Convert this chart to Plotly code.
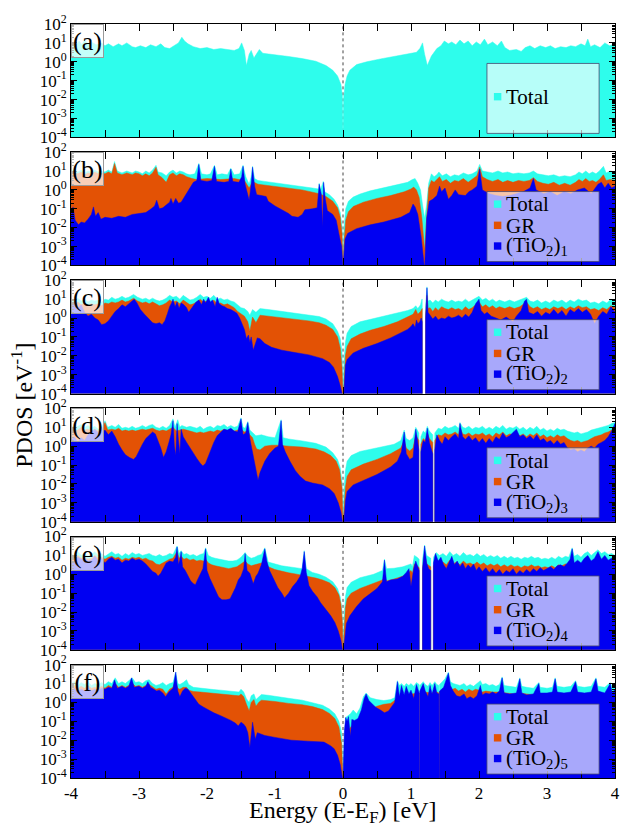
import plotly.graph_objects as go
from plotly.subplots import make_subplots

# Projected density of states, stored as (energy E-E_F [eV], log10 PDOS [1/eV]).
# A value of -8 marks an energy window with no states (band gap).

total_a = [(-4.0, 0.7), (-3.97, 1.0), (-3.93, 0.85), (-3.88, 1.1), (-3.84, 0.9), (-3.8, 1.15), (-3.75, 0.95),
           (-3.7, 1.05), (-3.63, 0.9), (-3.55, 1.0), (-3.5, 0.85), (-3.45, 0.95), (-3.38, 0.8), (-3.3, 0.95),
           (-3.25, 0.85), (-3.18, 1.0), (-3.1, 0.8), (-3.05, 0.75), (-2.98, 0.85), (-2.9, 0.75), (-2.83, 0.9),
           (-2.75, 0.8), (-2.68, 0.95), (-2.62, 0.75), (-2.55, 0.7), (-2.48, 0.85), (-2.42, 1.0), (-2.37, 1.3),
           (-2.33, 1.1), (-2.28, 0.95), (-2.2, 0.8), (-2.1, 0.7), (-2.0, 0.75), (-1.9, 0.65), (-1.8, 0.7),
           (-1.7, 0.65), (-1.6, 0.6), (-1.53, 0.7), (-1.49, 1.0), (-1.45, 0.6), (-1.42, -0.2), (-1.38, 0.4),
           (-1.35, 0.6), (-1.31, 0.2), (-1.27, 0.45), (-1.23, 0.65), (-1.18, 0.45), (-1.0, 0.38), (-0.8, 0.28),
           (-0.6, 0.17), (-0.4, 0.03), (-0.25, -0.2), (-0.15, -0.45), (-0.08, -0.75), (-0.03, -1.2),
           (-0.01, -1.8), (0.0, -4.2), (0.01, -1.9), (0.03, -1.2), (0.06, -0.75), (0.1, -0.45), (0.2, -0.15),
           (0.35, 0.0), (0.55, 0.15), (0.8, 0.3), (1.0, 0.42), (1.08, 0.5), (1.13, 0.7), (1.17, 1.0), (1.2, 0.4),
           (1.24, -0.2), (1.3, 0.3), (1.38, 0.7), (1.44, 0.85), (1.49, 1.1), (1.55, 0.95), (1.6, 1.05),
           (1.66, 0.9), (1.72, 1.15), (1.78, 0.95), (1.84, 1.1), (1.9, 0.85), (1.96, 1.05), (2.02, 0.9),
           (2.08, 1.2), (2.13, 0.9), (2.2, 1.05), (2.27, 0.85), (2.33, 1.1), (2.38, 0.75), (2.45, 0.6),
           (2.55, 0.65), (2.62, 0.55), (2.68, 0.75), (2.75, 0.85), (2.82, 0.7), (2.9, 0.85), (2.98, 0.75),
           (3.05, 0.85), (3.12, 0.7), (3.2, 0.8), (3.28, 0.75), (3.35, 0.85), (3.42, 0.8), (3.5, 0.95),
           (3.56, 0.85), (3.6, 1.2), (3.64, 0.8), (3.7, 0.9), (3.78, 0.75), (3.85, 1.0), (3.92, 0.85), (4.0, 0.95)]

total_b = [(-4.0, 1.0), (-3.95, 1.1), (-3.9, 0.95), (-3.85, 1.05), (-3.8, 0.9), (-3.75, 1.0), (-3.7, 0.95),
           (-3.65, 1.05), (-3.6, 0.95), (-3.55, 1.0), (-3.5, 0.95), (-3.45, 1.05), (-3.4, 0.95), (-3.36, 1.5),
           (-3.32, 1.0), (-3.25, 0.9), (-3.18, 1.0), (-3.1, 0.9), (-3.05, 1.0), (-3.0, 0.95), (-2.95, 0.85),
           (-2.9, 1.0), (-2.85, 0.9), (-2.8, 1.05), (-2.75, 1.3), (-2.72, 0.95), (-2.66, 0.9), (-2.6, 0.75),
           (-2.55, 0.95), (-2.5, 1.05), (-2.45, 0.9), (-2.4, 1.0), (-2.35, 0.95), (-2.3, 0.85), (-2.25, 0.8),
           (-2.18, 0.85), (-2.12, 1.4), (-2.08, 0.85), (-2.0, 0.8), (-1.95, 0.85), (-1.89, 1.3), (-1.85, 0.8),
           (-1.78, 0.85), (-1.7, 0.8), (-1.65, 1.15), (-1.6, 0.8), (-1.52, 0.85), (-1.47, 1.3), (-1.43, 0.7),
           (-1.38, 0.3), (-1.35, 0.7), (-1.33, 1.25), (-1.3, 0.6), (-1.25, 0.5), (-1.15, 0.45), (-1.0, 0.38),
           (-0.8, 0.3), (-0.6, 0.2), (-0.45, 0.1), (-0.36, 0.05), (-0.35, 0.35), (-0.33, 0.0), (-0.29, 0.45),
           (-0.27, -0.1), (-0.2, -0.25), (-0.13, -0.5), (-0.08, -0.8), (-0.04, -1.2), (-0.015, -1.9),
           (0.0, -4.2), (0.015, -2.0), (0.04, -1.0), (0.08, -0.6), (0.15, -0.38), (0.25, -0.22), (0.4, -0.05),
           (0.6, 0.1), (0.8, 0.25), (0.95, 0.4), (1.02, 0.55), (1.06, 0.6), (1.1, 0.35), (1.14, 0.0),
           (1.17, -0.8), (1.2, -1.5), (1.23, -0.8), (1.26, 0.35), (1.3, 0.85), (1.34, 0.7), (1.38, 0.8),
           (1.41, 0.95), (1.46, 0.75), (1.52, 0.85), (1.58, 0.7), (1.64, 0.8), (1.7, 0.75), (1.77, 0.9),
           (1.84, 0.8), (1.9, 0.85), (1.97, 1.0), (2.01, 1.35), (2.05, 1.0), (2.12, 0.95), (2.2, 0.9),
           (2.28, 1.0), (2.35, 0.9), (2.42, 0.95), (2.5, 0.85), (2.58, 0.9), (2.66, 0.85), (2.74, 0.9),
           (2.8, 1.0), (2.86, 0.85), (2.94, 0.8), (3.02, 0.75), (3.1, 0.8), (3.18, 0.7), (3.26, 0.75),
           (3.34, 0.7), (3.42, 0.8), (3.47, 0.95), (3.52, 0.85), (3.57, 1.0), (3.62, 0.85), (3.67, 0.95),
           (3.72, 0.85), (3.77, 1.0), (3.83, 1.25), (3.87, 0.9), (3.93, 1.0), (4.0, 0.95)]

gr_b = [(-4.0, 0.9), (-3.95, 0.95), (-3.9, 0.85), (-3.85, 0.95), (-3.8, 0.8), (-3.75, 0.9), (-3.7, 0.85),
        (-3.65, 0.95), (-3.6, 0.85), (-3.55, 0.9), (-3.5, 0.85), (-3.45, 0.95), (-3.4, 0.85), (-3.36, 1.4),
        (-3.32, 0.9), (-3.25, 0.8), (-3.18, 0.9), (-3.1, 0.8), (-3.05, 0.9), (-3.0, 0.85), (-2.95, 0.75),
        (-2.9, 0.85), (-2.85, 0.75), (-2.8, 0.9), (-2.75, 1.2), (-2.72, 0.8), (-2.66, 0.65), (-2.6, 0.4),
        (-2.55, 0.8), (-2.5, 0.9), (-2.45, 0.75), (-2.4, 0.85), (-2.35, 0.8), (-2.3, 0.7), (-2.22, 0.6),
        (-2.15, 0.55), (-2.0, 0.6), (-1.8, 0.55), (-1.6, 0.6), (-1.45, 0.5), (-1.38, 0.1), (-1.33, 0.45),
        (-1.25, 0.3), (-1.15, 0.25), (-1.0, 0.18), (-0.8, 0.1), (-0.6, 0.0), (-0.45, -0.12), (-0.35, -0.2),
        (-0.25, -0.35), (-0.15, -0.6), (-0.08, -0.95), (-0.04, -1.45), (-0.015, -2.3), (0.0, -4.2),
        (0.015, -2.8), (0.04, -1.6), (0.08, -1.15), (0.15, -0.88), (0.3, -0.65), (0.5, -0.45), (0.7, -0.3),
        (0.9, -0.1), (1.0, 0.05), (1.04, 0.15), (1.08, 0.0), (1.12, -0.4), (1.16, -1.5), (1.2, -3.2),
        (1.23, -1.5), (1.26, 0.1), (1.3, 0.5), (1.34, 0.4), (1.38, 0.55), (1.42, 0.7), (1.46, 0.45),
        (1.52, 0.55), (1.58, 0.35), (1.64, 0.5), (1.7, 0.45), (1.77, 0.6), (1.84, 0.4), (1.9, 0.55),
        (1.97, 0.75), (2.01, 1.2), (2.05, 0.7), (2.12, 0.55), (2.2, 0.45), (2.28, 0.55), (2.35, 0.4),
        (2.42, 0.5), (2.5, 0.4), (2.58, 0.5), (2.66, 0.45), (2.74, 0.5), (2.8, 0.65), (2.86, 0.45),
        (2.94, 0.35), (3.02, 0.3), (3.1, 0.4), (3.18, 0.25), (3.26, 0.35), (3.34, 0.25), (3.42, 0.4),
        (3.47, 0.55), (3.52, 0.45), (3.57, 0.6), (3.62, 0.45), (3.67, 0.5), (3.72, 0.4), (3.77, 0.55),
        (3.83, 0.8), (3.87, 0.5), (3.93, 0.55), (4.0, 0.5)]

tio2_b = [(-4.0, -1.3), (-3.97, -0.9), (-3.94, -1.6), (-3.89, -1.85), (-3.85, -1.7), (-3.8, -1.75),
          (-3.75, -1.55), (-3.7, -1.3), (-3.67, -0.9), (-3.64, -1.4), (-3.6, -1.2), (-3.56, -1.55),
          (-3.5, -1.45), (-3.4, -1.5), (-3.3, -1.4), (-3.2, -1.45), (-3.1, -1.3), (-3.0, -1.25), (-2.9, -1.2),
          (-2.82, -1.0), (-2.77, -0.85), (-2.74, -0.55), (-2.7, -1.0), (-2.65, -0.95), (-2.6, -0.8),
          (-2.55, -0.65), (-2.53, -0.45), (-2.5, -0.75), (-2.46, -0.45), (-2.42, -0.7), (-2.38, -0.65),
          (-2.32, -0.3), (-2.27, 0.0), (-2.2, 0.4), (-2.15, 0.5), (-2.12, 1.35), (-2.09, 0.5), (-2.0, 0.45),
          (-1.93, 0.5), (-1.89, 1.25), (-1.86, 0.45), (-1.75, 0.4), (-1.68, 0.45), (-1.65, 1.1),
          (-1.62, 0.45), (-1.53, 0.4), (-1.49, 0.7), (-1.47, 1.25), (-1.44, 0.3), (-1.4, -0.3),
          (-1.38, -0.55), (-1.35, 0.3), (-1.33, 1.2), (-1.3, 0.2), (-1.27, -0.25), (-1.2, -0.3),
          (-1.13, -0.35), (-1.1, -0.6), (-1.0, -0.85), (-0.9, -1.05), (-0.8, -1.25), (-0.75, -1.4),
          (-0.66, -1.45), (-0.6, -1.3), (-0.56, -1.05), (-0.45, -1.0), (-0.38, -0.95), (-0.35, 0.3),
          (-0.32, -0.2), (-0.3, -2.0), (-0.285, 0.4), (-0.26, -0.5), (-0.23, -1.1), (-0.15, -1.3),
          (-0.1, -1.6), (-0.05, -2.5), (-0.02, -3.0), (0.0, -4.2), (0.01, -3.5), (0.03, -2.6), (0.07, -2.3),
          (0.2, -2.05), (0.4, -1.85), (0.6, -1.7), (0.85, -1.45), (0.98, -1.2), (1.03, -0.75), (1.06, -0.9),
          (1.1, -1.3), (1.15, -2.5), (1.2, -4.2), (1.23, -1.5), (1.27, -0.6), (1.32, -0.5), (1.38, -0.3),
          (1.42, 0.2), (1.45, -0.1), (1.5, 0.1), (1.55, -0.5), (1.6, -0.3), (1.65, 0.0), (1.7, -0.25),
          (1.8, -0.3), (1.85, -0.1), (1.9, 0.0), (1.97, 0.2), (2.01, 1.1), (2.05, 0.0), (2.15, -0.2),
          (2.25, -0.3), (2.35, -0.35), (2.45, -0.3), (2.55, -0.2), (2.65, -0.1), (2.75, 0.1), (2.8, 0.6),
          (2.84, 0.0), (2.95, -0.2), (3.05, -0.1), (3.15, -0.3), (3.25, -0.1), (3.35, -0.2), (3.45, 0.0),
          (3.55, 0.1), (3.65, -0.2), (3.75, 0.3), (3.8, 0.4), (3.85, 0.1), (3.9, 0.35), (3.95, 0.1), (4.0, 0.2)]

total_c = [(-4.0, 1.0), (-3.95, 0.9), (-3.9, 1.05), (-3.85, 0.9), (-3.8, 1.0), (-3.75, 0.85), (-3.7, 0.95),
           (-3.65, 0.9), (-3.6, 0.95), (-3.55, 0.85), (-3.5, 1.0), (-3.45, 0.95), (-3.4, 1.1), (-3.35, 1.0),
           (-3.3, 1.05), (-3.25, 1.15), (-3.2, 1.05), (-3.15, 1.1), (-3.08, 1.25), (-3.02, 1.1), (-2.95, 1.0),
           (-2.9, 1.05), (-2.85, 0.95), (-2.8, 1.05), (-2.75, 0.95), (-2.7, 0.9), (-2.65, 0.95), (-2.6, 1.05),
           (-2.55, 1.2), (-2.5, 1.1), (-2.45, 1.15), (-2.4, 1.0), (-2.35, 1.2), (-2.3, 1.05), (-2.25, 0.95),
           (-2.2, 1.0), (-2.15, 1.1), (-2.1, 1.25), (-2.05, 1.1), (-2.0, 1.15), (-1.95, 1.05), (-1.9, 1.2),
           (-1.85, 1.0), (-1.8, 1.05), (-1.75, 0.95), (-1.7, 1.0), (-1.65, 0.9), (-1.6, 0.85), (-1.55, 0.7),
           (-1.5, 0.55), (-1.45, 0.5), (-1.4, 0.35), (-1.37, 0.15), (-1.33, 0.45), (-1.28, 0.3), (-1.22, 0.5),
           (-1.1, 0.45), (-0.9, 0.35), (-0.7, 0.27), (-0.5, 0.18), (-0.35, 0.08), (-0.25, -0.05),
           (-0.15, -0.3), (-0.08, -0.7), (-0.04, -1.1), (-0.015, -1.8), (0.0, -4.2), (0.015, -2.3),
           (0.035, -1.3), (0.06, -0.8), (0.12, -0.45), (0.25, -0.2), (0.5, 0.0), (0.75, 0.2), (0.95, 0.4),
           (1.03, 0.5), (1.07, 0.65), (1.1, 0.5), (1.14, 0.7), (1.16, 1.0), (1.165, 1.0), (1.166, -8),
           (1.214, -8), (1.215, 0.6), (1.235, 1.65), (1.25, 0.9), (1.28, 0.95), (1.32, 0.8), (1.36, 0.95),
           (1.4, 0.85), (1.45, 1.0), (1.5, 0.9), (1.55, 0.85), (1.6, 0.95), (1.65, 0.85), (1.7, 0.9),
           (1.75, 0.85), (1.8, 1.0), (1.85, 0.85), (1.9, 0.95), (1.95, 1.05), (2.0, 1.15), (2.05, 0.95),
           (2.1, 1.05), (2.15, 0.9), (2.2, 1.0), (2.25, 0.85), (2.3, 0.95), (2.38, 0.85), (2.45, 0.95),
           (2.52, 0.85), (2.6, 0.95), (2.66, 1.05), (2.7, 1.1), (2.75, 0.9), (2.8, 0.85), (2.86, 0.95),
           (2.92, 0.8), (2.98, 0.9), (3.04, 0.8), (3.1, 0.95), (3.16, 0.85), (3.22, 0.95), (3.28, 0.8),
           (3.34, 0.95), (3.4, 0.85), (3.46, 1.0), (3.52, 0.9), (3.58, 0.95), (3.64, 0.8), (3.7, 0.85),
           (3.76, 0.75), (3.82, 0.9), (3.88, 0.8), (3.94, 1.0), (4.0, 0.9)]

gr_c = [(-4.0, 0.8), (-3.95, 0.7), (-3.9, 0.85), (-3.85, 0.7), (-3.8, 0.8), (-3.75, 0.65), (-3.7, 0.75),
        (-3.65, 0.7), (-3.6, 0.75), (-3.55, 0.65), (-3.5, 0.8), (-3.45, 0.75), (-3.4, 0.85), (-3.35, 0.8),
        (-3.3, 0.85), (-3.25, 0.95), (-3.2, 0.85), (-3.15, 0.9), (-3.08, 1.05), (-3.02, 0.9), (-2.95, 0.8),
        (-2.9, 0.85), (-2.85, 0.75), (-2.8, 0.85), (-2.75, 0.75), (-2.7, 0.65), (-2.65, 0.7), (-2.6, 0.8),
        (-2.55, 0.95), (-2.5, 0.85), (-2.45, 0.9), (-2.4, 0.75), (-2.35, 0.95), (-2.3, 0.8), (-2.25, 0.7),
        (-2.2, 0.75), (-2.15, 0.85), (-2.1, 1.0), (-2.05, 0.85), (-2.0, 0.9), (-1.95, 0.8), (-1.9, 0.95),
        (-1.85, 0.75), (-1.8, 0.8), (-1.75, 0.7), (-1.7, 0.75), (-1.65, 0.65), (-1.6, 0.55), (-1.55, 0.35),
        (-1.5, 0.2), (-1.45, 0.1), (-1.4, -0.2), (-1.37, -0.7), (-1.33, 0.05), (-1.28, -0.25), (-1.22, 0.15),
        (-1.1, 0.1), (-0.9, 0.02), (-0.7, -0.05), (-0.5, -0.15), (-0.35, -0.25), (-0.25, -0.38),
        (-0.15, -0.6), (-0.08, -1.0), (-0.04, -1.6), (-0.015, -2.6), (0.0, -4.2), (0.015, -3.5),
        (0.035, -2.0), (0.06, -1.5), (0.12, -1.1), (0.25, -0.85), (0.4, -0.65), (0.6, -0.45), (0.8, -0.2),
        (0.95, 0.05), (1.03, 0.2), (1.07, 0.45), (1.1, 0.2), (1.14, 0.35), (1.16, 0.5), (1.165, 0.5),
        (1.166, -8), (1.214, -8), (1.215, 0.2), (1.235, 1.2), (1.25, 0.5), (1.28, 0.55), (1.32, 0.35),
        (1.36, 0.55), (1.4, 0.4), (1.45, 0.6), (1.5, 0.5), (1.55, 0.45), (1.6, 0.55), (1.65, 0.45),
        (1.7, 0.5), (1.75, 0.4), (1.8, 0.6), (1.85, 0.45), (1.9, 0.55), (1.95, 0.7), (2.0, 0.85),
        (2.05, 0.6), (2.1, 0.7), (2.15, 0.55), (2.2, 0.65), (2.25, 0.5), (2.3, 0.6), (2.38, 0.5),
        (2.45, 0.6), (2.52, 0.5), (2.6, 0.6), (2.66, 0.75), (2.7, 0.85), (2.75, 0.6), (2.8, 0.5),
        (2.86, 0.6), (2.92, 0.45), (2.98, 0.55), (3.04, 0.45), (3.1, 0.6), (3.16, 0.5), (3.22, 0.6),
        (3.28, 0.45), (3.34, 0.6), (3.4, 0.5), (3.46, 0.65), (3.52, 0.55), (3.58, 0.6), (3.64, 0.45),
        (3.7, 0.5), (3.76, 0.4), (3.82, 0.55), (3.88, 0.45), (3.94, 0.65), (4.0, 0.55)]

tio2_c = [(-4.0, 0.6), (-3.95, 0.9), (-3.9, 0.5), (-3.85, 0.7), (-3.8, 0.3), (-3.75, 0.1), (-3.7, 0.2),
          (-3.65, 0.0), (-3.6, -0.1), (-3.55, -0.35), (-3.5, -0.3), (-3.45, -0.15), (-3.4, 0.1), (-3.35, 0.35),
          (-3.3, 0.5), (-3.25, 0.7), (-3.2, 0.6), (-3.15, 0.75), (-3.1, 0.9), (-3.07, 1.0), (-3.03, 0.8),
          (-2.98, 0.45), (-2.92, 0.2), (-2.86, 0.0), (-2.8, -0.25), (-2.75, -0.3), (-2.7, -0.25),
          (-2.66, -0.35), (-2.62, -0.15), (-2.58, 0.25), (-2.55, 0.6), (-2.52, 0.8), (-2.5, 1.0),
          (-2.47, 0.6), (-2.44, 0.85), (-2.41, 0.5), (-2.38, 0.8), (-2.34, 0.7), (-2.3, 0.55), (-2.27, 0.3),
          (-2.24, 0.45), (-2.2, 0.65), (-2.16, 0.85), (-2.12, 0.95), (-2.08, 0.7), (-2.05, 1.0), (-2.02, 0.8),
          (-1.98, 1.1), (-1.95, 0.85), (-1.92, 0.95), (-1.88, 0.6), (-1.85, 1.1), (-1.82, 0.75),
          (-1.78, 0.65), (-1.74, 0.6), (-1.7, 0.5), (-1.65, 0.45), (-1.6, 0.35), (-1.56, 0.25), (-1.52, 0.0),
          (-1.48, -0.3), (-1.45, -0.6), (-1.42, -1.1), (-1.39, -0.9), (-1.37, -1.3), (-1.35, -1.0),
          (-1.32, -1.7), (-1.29, -1.3), (-1.26, -1.05), (-1.22, -1.1), (-1.15, -1.35), (-1.05, -1.55),
          (-0.9, -1.7), (-0.75, -1.8), (-0.5, -1.95), (-0.3, -2.15), (-0.2, -2.35), (-0.14, -2.6),
          (-0.08, -3.1), (-0.04, -3.6), (0.0, -4.2), (0.015, -4.0), (0.035, -2.5), (0.06, -2.2), (0.15, -1.85),
          (0.3, -1.6), (0.5, -1.35), (0.7, -1.05), (0.85, -0.8), (0.95, -0.6), (1.0, -0.45), (1.03, -0.3),
          (1.06, -0.5), (1.08, -0.1), (1.1, -0.3), (1.13, -0.2), (1.15, 0.0), (1.165, -0.2), (1.166, -8),
          (1.214, -8), (1.215, 0.0), (1.235, 1.6), (1.25, 0.3), (1.28, 0.15), (1.32, -0.05), (1.36, 0.1),
          (1.4, -0.1), (1.45, 0.0), (1.5, -0.05), (1.55, 0.1), (1.6, 0.0), (1.65, 0.05), (1.7, 0.15),
          (1.75, 0.0), (1.8, 0.2), (1.85, 0.05), (1.9, 0.3), (1.95, 0.75), (2.0, 1.0), (2.03, 0.4),
          (2.08, 0.2), (2.12, 0.3), (2.18, 0.1), (2.25, 0.0), (2.32, -0.1), (2.4, 0.05), (2.45, -0.1),
          (2.5, -0.2), (2.55, 0.1), (2.62, 0.4), (2.67, 0.9), (2.7, 1.0), (2.73, 0.3), (2.8, 0.2),
          (2.86, 0.35), (2.92, 0.1), (2.98, 0.3), (3.04, 0.2), (3.1, 0.45), (3.16, 0.2), (3.22, 0.4),
          (3.28, 0.1), (3.34, 0.45), (3.4, 0.3), (3.46, 0.5), (3.52, 0.3), (3.58, 0.45), (3.64, 0.2),
          (3.7, -0.3), (3.76, 0.1), (3.82, 0.35), (3.88, 0.2), (3.94, 0.6), (4.0, 0.3)]

total_d = [(-4.0, 1.1), (-3.95, 0.95), (-3.9, 1.05), (-3.85, 1.15), (-3.8, 1.0), (-3.75, 1.1), (-3.7, 0.95),
           (-3.65, 1.05), (-3.6, 0.9), (-3.55, 1.0), (-3.5, 1.35), (-3.46, 1.0), (-3.4, 1.1), (-3.35, 1.0),
           (-3.3, 1.15), (-3.25, 0.95), (-3.2, 1.0), (-3.15, 0.95), (-3.1, 1.05), (-3.05, 0.95), (-3.0, 1.0),
           (-2.95, 1.1), (-2.9, 1.0), (-2.85, 1.1), (-2.8, 1.15), (-2.75, 1.0), (-2.7, 0.95), (-2.65, 1.05),
           (-2.6, 0.95), (-2.55, 1.1), (-2.5, 1.45), (-2.47, 1.0), (-2.43, 1.4), (-2.4, 1.0), (-2.37, 1.1),
           (-2.3, 1.0), (-2.25, 1.05), (-2.2, 1.0), (-2.15, 0.95), (-2.1, 1.05), (-2.05, 0.9), (-2.0, 1.0),
           (-1.95, 1.05), (-1.9, 0.95), (-1.85, 1.1), (-1.8, 1.05), (-1.75, 1.15), (-1.7, 1.0), (-1.65, 1.1),
           (-1.6, 1.0), (-1.55, 1.05), (-1.5, 1.5), (-1.47, 1.0), (-1.44, 0.95), (-1.4, 1.3), (-1.37, 0.85),
           (-1.33, 0.7), (-1.28, 0.55), (-1.2, 0.6), (-1.1, 0.5), (-1.0, 0.45), (-0.91, 1.4), (-0.88, 0.45),
           (-0.8, 0.38), (-0.6, 0.28), (-0.4, 0.15), (-0.25, -0.05), (-0.15, -0.35), (-0.08, -0.7),
           (-0.04, -1.15), (-0.015, -1.9), (0.0, -4.2), (0.015, -2.3), (0.035, -1.3), (0.06, -0.8),
           (0.12, -0.5), (0.25, -0.28), (0.5, -0.1), (0.75, 0.1), (0.85, 0.3), (0.9, 0.85), (0.93, 0.4),
           (0.98, 0.3), (1.03, 0.45), (1.07, 1.0), (1.1, 0.8), (1.115, 0.7), (1.116, -8), (1.144, -8),
           (1.145, 0.5), (1.18, 0.8), (1.21, 0.7), (1.24, 1.05), (1.27, 0.8), (1.3, 0.7), (1.32, 0.6),
           (1.321, -8), (1.349, -8), (1.35, 0.7), (1.4, 0.95), (1.45, 0.9), (1.5, 1.05), (1.55, 0.95),
           (1.6, 1.0), (1.65, 1.1), (1.7, 0.95), (1.72, 1.25), (1.76, 1.0), (1.8, 0.95), (1.85, 1.05),
           (1.9, 0.9), (1.95, 1.0), (2.0, 0.95), (2.05, 1.05), (2.1, 0.9), (2.15, 1.0), (2.2, 0.9),
           (2.25, 1.05), (2.3, 0.95), (2.35, 1.1), (2.4, 0.9), (2.45, 1.0), (2.5, 0.95), (2.55, 1.05),
           (2.6, 0.9), (2.65, 1.0), (2.7, 0.85), (2.75, 1.0), (2.8, 0.9), (2.85, 1.05), (2.9, 0.85),
           (2.95, 0.95), (3.0, 0.8), (3.05, 0.9), (3.1, 0.8), (3.15, 0.95), (3.2, 0.85), (3.25, 0.9),
           (3.3, 0.8), (3.35, 0.75), (3.4, 0.7), (3.45, 0.75), (3.5, 0.65), (3.55, 0.7), (3.6, 0.75),
           (3.65, 0.85), (3.7, 0.9), (3.75, 0.95), (3.8, 1.0), (3.85, 1.05), (3.9, 1.1), (3.95, 1.2), (4.0, 1.25)]

gr_d = [(-4.0, 0.9), (-3.95, 0.8), (-3.9, 0.85), (-3.85, 1.0), (-3.8, 0.85), (-3.75, 0.9), (-3.7, 0.8),
        (-3.65, 0.9), (-3.6, 0.8), (-3.55, 0.85), (-3.5, 1.25), (-3.46, 0.85), (-3.4, 0.9), (-3.35, 0.85),
        (-3.3, 0.95), (-3.25, 0.8), (-3.2, 0.85), (-3.15, 0.8), (-3.1, 0.85), (-3.05, 0.8), (-3.0, 0.85),
        (-2.95, 0.9), (-2.9, 0.85), (-2.85, 0.9), (-2.8, 0.95), (-2.75, 0.85), (-2.7, 0.8), (-2.65, 0.85),
        (-2.6, 0.8), (-2.55, 0.9), (-2.5, 1.0), (-2.45, 0.8), (-2.4, 0.85), (-2.35, 0.9), (-2.3, 0.85),
        (-2.25, 0.8), (-2.2, 0.75), (-2.15, 0.7), (-2.1, 0.75), (-2.05, 0.7), (-2.0, 0.75), (-1.95, 0.8),
        (-1.9, 0.75), (-1.85, 0.85), (-1.8, 0.8), (-1.75, 0.9), (-1.7, 0.8), (-1.65, 0.85), (-1.6, 0.8),
        (-1.55, 0.85), (-1.5, 0.9), (-1.45, 0.75), (-1.4, 0.8), (-1.37, 0.6), (-1.33, 0.45), (-1.3, 0.1),
        (-1.27, -0.15), (-1.22, -0.2), (-1.15, 0.0), (-1.05, 0.05), (-0.95, 0.05), (-0.8, 0.0),
        (-0.6, -0.05), (-0.4, -0.15), (-0.28, -0.3), (-0.18, -0.5), (-0.1, -0.8), (-0.05, -1.25),
        (-0.015, -2.2), (0.0, -4.2), (0.015, -3.5), (0.035, -2.2), (0.06, -1.6), (0.12, -1.25), (0.3, -0.95),
        (0.5, -0.7), (0.7, -0.4), (0.85, -0.1), (0.9, 0.3), (0.93, -0.1), (0.98, -0.25), (1.03, -0.1),
        (1.07, 0.6), (1.1, 0.4), (1.115, 0.3), (1.116, -8), (1.144, -8), (1.145, 0.1), (1.18, 0.4),
        (1.21, 0.3), (1.24, 0.7), (1.27, 0.4), (1.3, 0.3), (1.32, 0.2), (1.321, -8), (1.349, -8),
        (1.35, 0.3), (1.4, 0.6), (1.45, 0.55), (1.5, 0.7), (1.55, 0.6), (1.6, 0.65), (1.65, 0.75),
        (1.7, 0.6), (1.72, 0.95), (1.76, 0.65), (1.8, 0.6), (1.85, 0.7), (1.9, 0.55), (1.95, 0.65),
        (2.0, 0.6), (2.05, 0.7), (2.1, 0.55), (2.15, 0.65), (2.2, 0.5), (2.25, 0.7), (2.3, 0.6),
        (2.35, 0.75), (2.4, 0.55), (2.45, 0.65), (2.5, 0.6), (2.55, 0.7), (2.6, 0.55), (2.65, 0.65),
        (2.7, 0.5), (2.75, 0.65), (2.8, 0.55), (2.85, 0.7), (2.9, 0.5), (2.95, 0.6), (3.0, 0.45),
        (3.05, 0.55), (3.1, 0.45), (3.15, 0.6), (3.2, 0.5), (3.25, 0.55), (3.3, 0.4), (3.35, 0.3),
        (3.4, 0.25), (3.45, 0.3), (3.5, 0.2), (3.55, 0.25), (3.6, 0.3), (3.65, 0.4), (3.7, 0.5),
        (3.75, 0.55), (3.8, 0.6), (3.85, 0.7), (3.9, 0.75), (3.95, 0.85), (4.0, 0.9)]

tio2_d = [(-4.0, 0.3), (-3.95, 0.5), (-3.9, 0.2), (-3.85, 0.45), (-3.8, 0.3), (-3.75, 0.6), (-3.7, 0.75),
          (-3.65, 0.9), (-3.6, 0.7), (-3.56, 1.1), (-3.53, 0.75), (-3.5, 0.85), (-3.45, 0.6), (-3.4, 0.8),
          (-3.35, 0.5), (-3.3, 0.1), (-3.25, -0.2), (-3.2, -0.45), (-3.14, -0.6), (-3.08, -0.7),
          (-3.04, -0.55), (-3.0, -0.25), (-2.95, 0.1), (-2.9, 0.4), (-2.85, 0.6), (-2.8, 0.75), (-2.76, 0.65),
          (-2.72, 0.3), (-2.68, -0.1), (-2.64, -0.6), (-2.6, -0.3), (-2.56, 0.2), (-2.53, 0.6), (-2.5, 1.35),
          (-2.48, 0.0), (-2.46, -0.5), (-2.44, 1.2), (-2.42, 0.3), (-2.4, -0.4), (-2.38, 0.9), (-2.35, 0.5),
          (-2.3, 0.2), (-2.25, -0.1), (-2.2, -0.4), (-2.15, -0.65), (-2.1, -0.9), (-2.06, -1.05),
          (-2.02, -0.9), (-1.98, -0.5), (-1.94, -0.2), (-1.9, 0.2), (-1.85, 0.55), (-1.8, 0.75), (-1.75, 0.9),
          (-1.7, 0.85), (-1.65, 0.95), (-1.6, 0.8), (-1.55, 0.75), (-1.5, 1.45), (-1.47, 0.6), (-1.43, 0.7),
          (-1.4, 1.25), (-1.37, 0.4), (-1.33, -0.4), (-1.3, -0.9), (-1.27, -1.5), (-1.25, -1.8),
          (-1.22, -1.4), (-1.15, -0.8), (-1.08, -0.4), (-1.0, -0.1), (-0.95, 0.0), (-0.91, 1.35),
          (-0.89, 0.1), (-0.85, -0.3), (-0.78, -0.8), (-0.7, -1.3), (-0.63, -1.6), (-0.55, -1.85),
          (-0.45, -1.95), (-0.3, -2.05), (-0.2, -2.25), (-0.13, -2.5), (-0.07, -3.0), (-0.03, -3.5),
          (0.0, -4.2), (0.015, -4.0), (0.035, -2.9), (0.06, -2.4), (0.15, -2.05), (0.3, -1.8), (0.5, -1.5),
          (0.7, -1.1), (0.8, -0.8), (0.86, -0.3), (0.9, 0.75), (0.93, -0.4), (0.98, -0.7), (1.03, -0.6),
          (1.07, 0.9), (1.1, 0.2), (1.115, -0.2), (1.116, -8), (1.144, -8), (1.145, -0.3), (1.18, 0.3),
          (1.21, 0.2), (1.24, 0.95), (1.27, 0.2), (1.3, -0.2), (1.32, -0.4), (1.321, -8), (1.349, -8),
          (1.35, -0.2), (1.38, 0.6), (1.42, 0.3), (1.46, 0.1), (1.5, 0.5), (1.55, 0.3), (1.6, 0.5),
          (1.65, 0.65), (1.7, 0.4), (1.72, 1.2), (1.76, 0.5), (1.8, 0.35), (1.85, 0.55), (1.9, 0.3),
          (1.95, 0.45), (2.0, 0.2), (2.05, 0.4), (2.1, 0.15), (2.15, 0.4), (2.2, 0.2), (2.25, 0.5),
          (2.3, 0.35), (2.35, 0.7), (2.4, 0.45), (2.45, 0.55), (2.5, 0.7), (2.55, 0.9), (2.6, 0.5),
          (2.65, 0.6), (2.7, 0.4), (2.75, 0.55), (2.8, 0.35), (2.85, 0.6), (2.9, 0.3), (2.95, 0.4),
          (3.0, 0.2), (3.05, 0.3), (3.1, 0.1), (3.15, 0.3), (3.2, 0.1), (3.25, 0.2), (3.3, -0.1),
          (3.35, -0.2), (3.4, -0.15), (3.45, -0.3), (3.5, -0.2), (3.55, -0.3), (3.6, -0.1), (3.65, 0.0),
          (3.7, -0.1), (3.75, 0.1), (3.8, 0.2), (3.85, 0.3), (3.9, 0.5), (3.95, 0.8), (4.0, 1.2)]

total_e = [(-4.0, 1.1), (-3.95, 0.95), (-3.9, 1.2), (-3.85, 1.0), (-3.8, 1.1), (-3.75, 0.95), (-3.7, 1.05),
           (-3.65, 1.2), (-3.6, 1.0), (-3.55, 1.1), (-3.5, 0.95), (-3.45, 1.1), (-3.4, 1.2), (-3.35, 1.05),
           (-3.3, 1.1), (-3.25, 0.95), (-3.2, 1.1), (-3.15, 1.0), (-3.1, 1.15), (-3.05, 1.05), (-3.0, 1.1),
           (-2.95, 1.0), (-2.9, 1.05), (-2.85, 1.1), (-2.8, 1.0), (-2.75, 0.95), (-2.7, 1.05), (-2.65, 0.95),
           (-2.6, 1.0), (-2.55, 1.1), (-2.5, 1.05), (-2.44, 1.5), (-2.41, 1.1), (-2.38, 1.25), (-2.34, 1.05),
           (-2.3, 1.1), (-2.25, 1.0), (-2.2, 1.05), (-2.15, 0.95), (-2.1, 1.05), (-2.05, 1.1), (-2.02, 1.4),
           (-1.98, 1.0), (-1.93, 0.9), (-1.88, 0.85), (-1.82, 0.8), (-1.75, 0.75), (-1.68, 0.7), (-1.62, 0.7),
           (-1.56, 0.75), (-1.5, 0.9), (-1.47, 1.0), (-1.44, 1.15), (-1.4, 0.95), (-1.35, 0.85), (-1.3, 0.9),
           (-1.25, 1.0), (-1.2, 1.05), (-1.15, 1.4), (-1.1, 0.65), (-1.0, 0.55), (-0.9, 0.45), (-0.8, 0.4),
           (-0.7, 0.35), (-0.6, 0.3), (-0.57, 1.25), (-0.54, 0.3), (-0.45, 0.1), (-0.35, 0.0), (-0.25, -0.15),
           (-0.15, -0.4), (-0.08, -0.75), (-0.04, -1.2), (-0.015, -1.9), (0.0, -4.2), (0.015, -2.3),
           (0.035, -1.2), (0.06, -0.7), (0.12, -0.42), (0.25, -0.18), (0.45, 0.0), (0.58, 0.2), (0.61, 0.8),
           (0.64, 0.3), (0.75, 0.32), (0.88, 0.4), (0.95, 0.5), (1.0, 0.55), (1.02, 0.4), (1.05, 1.0),
           (1.09, 0.9), (1.12, 0.8), (1.121, -8), (1.169, -8), (1.17, 0.8), (1.2, 1.55), (1.23, 1.0),
           (1.26, 0.9), (1.29, 0.85), (1.291, -8), (1.329, -8), (1.33, 0.9), (1.37, 1.15), (1.42, 1.0),
           (1.47, 1.1), (1.52, 0.95), (1.57, 1.2), (1.62, 1.0), (1.67, 1.1), (1.72, 0.95), (1.77, 1.15),
           (1.82, 1.0), (1.87, 1.05), (1.92, 0.95), (1.97, 1.1), (2.02, 0.95), (2.07, 1.05), (2.12, 0.9),
           (2.17, 1.0), (2.22, 0.9), (2.27, 1.0), (2.32, 0.85), (2.37, 0.95), (2.42, 0.85), (2.47, 0.95),
           (2.52, 0.85), (2.57, 0.9), (2.62, 0.8), (2.67, 0.9), (2.72, 0.85), (2.77, 0.95), (2.82, 0.85),
           (2.87, 0.9), (2.92, 0.8), (2.97, 0.85), (3.02, 0.8), (3.07, 0.9), (3.12, 0.8), (3.17, 0.95),
           (3.22, 0.85), (3.27, 0.95), (3.32, 0.9), (3.37, 1.4), (3.4, 0.95), (3.45, 1.05), (3.5, 0.9),
           (3.55, 1.1), (3.6, 1.2), (3.65, 1.0), (3.7, 1.15), (3.75, 1.3), (3.8, 1.1), (3.85, 1.2),
           (3.9, 1.05), (3.95, 1.1), (4.0, 1.0)]

gr_e = [(-4.0, 0.95), (-3.95, 0.8), (-3.9, 1.0), (-3.85, 0.85), (-3.8, 0.9), (-3.75, 0.8), (-3.7, 0.85),
        (-3.65, 1.0), (-3.6, 0.85), (-3.55, 0.9), (-3.5, 0.8), (-3.45, 0.9), (-3.4, 0.95), (-3.35, 0.85),
        (-3.3, 0.9), (-3.25, 0.75), (-3.2, 0.85), (-3.15, 0.8), (-3.1, 0.9), (-3.05, 0.85), (-3.0, 0.9),
        (-2.95, 0.8), (-2.9, 0.85), (-2.85, 0.75), (-2.8, 0.7), (-2.75, 0.55), (-2.7, 0.5), (-2.65, 0.6),
        (-2.6, 0.7), (-2.55, 0.8), (-2.5, 0.85), (-2.44, 1.2), (-2.41, 0.85), (-2.38, 0.95), (-2.34, 0.8),
        (-2.3, 0.85), (-2.25, 0.75), (-2.2, 0.8), (-2.15, 0.7), (-2.1, 0.75), (-2.05, 0.7), (-2.02, 0.8),
        (-1.98, 0.6), (-1.93, 0.5), (-1.88, 0.45), (-1.82, 0.4), (-1.75, 0.35), (-1.68, 0.3), (-1.62, 0.35),
        (-1.56, 0.4), (-1.5, 0.55), (-1.47, 0.65), (-1.44, 0.7), (-1.4, 0.55), (-1.35, 0.45), (-1.3, 0.5),
        (-1.25, 0.55), (-1.2, 0.6), (-1.15, 0.55), (-1.1, 0.4), (-1.0, 0.25), (-0.9, 0.15), (-0.8, 0.08),
        (-0.7, 0.02), (-0.6, -0.05), (-0.5, -0.1), (-0.4, -0.2), (-0.3, -0.3), (-0.2, -0.45),
        (-0.12, -0.7), (-0.06, -1.1), (-0.03, -1.6), (-0.01, -2.5), (0.0, -4.2), (0.015, -3.3),
        (0.035, -1.8), (0.06, -1.3), (0.12, -1.0), (0.25, -0.75), (0.45, -0.5), (0.58, -0.3), (0.61, -0.15),
        (0.64, -0.35), (0.75, -0.25), (0.88, -0.1), (0.95, 0.05), (1.0, 0.2), (1.02, 0.05), (1.05, 0.55),
        (1.09, 0.45), (1.12, 0.35), (1.121, -8), (1.169, -8), (1.17, 0.35), (1.2, 1.1), (1.23, 0.55),
        (1.26, 0.45), (1.29, 0.4), (1.291, -8), (1.329, -8), (1.33, 0.45), (1.37, 0.7), (1.42, 0.55),
        (1.47, 0.65), (1.52, 0.5), (1.57, 0.75), (1.62, 0.55), (1.67, 0.65), (1.72, 0.5), (1.77, 0.7),
        (1.82, 0.55), (1.87, 0.6), (1.92, 0.5), (1.97, 0.65), (2.02, 0.5), (2.07, 0.6), (2.12, 0.45),
        (2.17, 0.55), (2.22, 0.45), (2.27, 0.55), (2.32, 0.4), (2.37, 0.5), (2.42, 0.4), (2.47, 0.5),
        (2.52, 0.4), (2.57, 0.45), (2.62, 0.35), (2.67, 0.45), (2.72, 0.4), (2.77, 0.5), (2.82, 0.4),
        (2.87, 0.45), (2.92, 0.35), (2.97, 0.4), (3.02, 0.35), (3.07, 0.45), (3.12, 0.35), (3.17, 0.5),
        (3.22, 0.45), (3.27, 0.55), (3.32, 0.5), (3.37, 0.9), (3.4, 0.55), (3.45, 0.65), (3.5, 0.5),
        (3.55, 0.7), (3.6, 0.8), (3.65, 0.6), (3.7, 0.75), (3.75, 0.9), (3.8, 0.7), (3.85, 0.8),
        (3.9, 0.65), (3.95, 0.7), (4.0, 0.6)]

tio2_e = [(-4.0, 0.6), (-3.95, 0.7), (-3.9, 0.9), (-3.85, 0.8), (-3.8, 0.85), (-3.75, 0.7), (-3.7, 0.75),
          (-3.65, 0.95), (-3.6, 0.75), (-3.55, 0.85), (-3.5, 0.6), (-3.45, 0.8), (-3.4, 0.9), (-3.35, 0.75),
          (-3.3, 0.8), (-3.25, 0.6), (-3.2, 0.75), (-3.15, 0.7), (-3.1, 0.85), (-3.05, 0.75), (-3.0, 0.8),
          (-2.95, 0.7), (-2.9, 0.55), (-2.85, 0.35), (-2.8, 0.15), (-2.75, 0.05), (-2.72, -0.1),
          (-2.68, 0.05), (-2.64, 0.3), (-2.6, 0.6), (-2.55, 0.7), (-2.5, 0.65), (-2.46, 0.9), (-2.44, 1.45),
          (-2.42, 0.5), (-2.4, 0.75), (-2.38, 1.2), (-2.36, 0.4), (-2.32, 0.2), (-2.28, -0.1), (-2.24, -0.35),
          (-2.2, -0.5), (-2.17, -0.55), (-2.14, -0.3), (-2.1, 0.0), (-2.06, 0.3), (-2.02, 1.35), (-2.0, 0.2),
          (-1.96, -0.2), (-1.92, -0.5), (-1.88, -0.85), (-1.83, -1.2), (-1.78, -1.35), (-1.72, -1.35),
          (-1.66, -1.3), (-1.62, -1.0), (-1.58, -0.7), (-1.54, -0.3), (-1.5, -0.1), (-1.46, 0.3),
          (-1.44, 1.1), (-1.41, 0.2), (-1.37, 0.05), (-1.32, -0.5), (-1.28, -0.1), (-1.25, 0.05),
          (-1.2, 0.5), (-1.15, 1.35), (-1.12, 0.7), (-1.08, 0.2), (-1.02, -0.3), (-0.96, -0.7), (-0.9, -1.0),
          (-0.86, -1.25), (-0.8, -1.0), (-0.74, -0.65), (-0.68, -0.4), (-0.63, -0.1), (-0.6, 0.3),
          (-0.57, 1.2), (-0.54, 0.1), (-0.5, -0.6), (-0.45, -0.9), (-0.38, -1.2), (-0.33, -1.5),
          (-0.25, -1.85), (-0.18, -2.2), (-0.12, -2.55), (-0.07, -3.0), (-0.03, -3.5), (0.0, -4.2),
          (0.015, -3.8), (0.05, -2.6), (0.1, -2.2), (0.2, -1.7), (0.3, -1.3), (0.4, -1.0), (0.5, -0.75),
          (0.58, -0.4), (0.61, 0.75), (0.64, -0.4), (0.7, -0.3), (0.8, -0.25), (0.88, -0.1), (0.93, 0.1),
          (0.97, 0.3), (1.0, -0.65), (1.04, 0.3), (1.07, 0.7), (1.1, 0.4), (1.12, 0.2), (1.121, -8),
          (1.169, -8), (1.17, 0.3), (1.2, 1.5), (1.23, 0.6), (1.26, 0.3), (1.29, 0.2), (1.291, -8),
          (1.329, -8), (1.33, 0.6), (1.36, 1.1), (1.4, 0.7), (1.44, 0.9), (1.48, 0.5), (1.52, 0.3),
          (1.56, 0.6), (1.6, 0.95), (1.64, 0.5), (1.68, 0.7), (1.72, 0.4), (1.76, 0.6), (1.8, 0.3),
          (1.84, 0.5), (1.88, 0.35), (1.92, 0.55), (1.96, 0.2), (2.0, 0.4), (2.05, 0.15), (2.1, 0.35),
          (2.15, 0.1), (2.2, 0.3), (2.25, 0.05), (2.3, 0.25), (2.35, 0.0), (2.4, 0.2), (2.45, 0.1),
          (2.5, 0.3), (2.55, 0.0), (2.6, 0.2), (2.65, 0.05), (2.7, 0.25), (2.75, 0.1), (2.8, 0.3),
          (2.85, 0.15), (2.9, 0.35), (2.95, 0.2), (3.0, 0.3), (3.05, 0.4), (3.1, 0.25), (3.15, 0.45),
          (3.2, 0.5), (3.25, 0.4), (3.3, 0.6), (3.34, 0.8), (3.37, 1.35), (3.4, 0.6), (3.45, 0.75),
          (3.5, 0.6), (3.55, 0.85), (3.6, 1.0), (3.65, 0.7), (3.7, 0.85), (3.75, 1.2), (3.8, 0.8),
          (3.85, 1.0), (3.9, 0.75), (3.95, 0.85), (4.0, 0.8)]

total_f = [(-4.0, 1.0), (-3.95, 1.1), (-3.9, 0.9), (-3.85, 1.05), (-3.8, 0.95), (-3.75, 1.1), (-3.7, 0.9),
           (-3.65, 1.0), (-3.6, 0.95), (-3.55, 1.05), (-3.5, 0.95), (-3.45, 1.1), (-3.4, 1.0), (-3.35, 1.3),
           (-3.3, 1.0), (-3.25, 1.1), (-3.2, 1.0), (-3.15, 1.15), (-3.1, 1.3), (-3.05, 1.05), (-3.0, 1.1),
           (-2.95, 1.0), (-2.9, 1.15), (-2.85, 1.2), (-2.8, 1.0), (-2.75, 0.9), (-2.7, 0.95), (-2.65, 1.05),
           (-2.6, 0.9), (-2.55, 1.0), (-2.5, 1.05), (-2.46, 1.6), (-2.43, 1.0), (-2.4, 0.95), (-2.35, 1.05),
           (-2.3, 1.2), (-2.27, 0.95), (-2.2, 0.8), (-2.1, 0.75), (-2.0, 0.72), (-1.9, 0.68), (-1.8, 0.65),
           (-1.7, 0.62), (-1.6, 0.58), (-1.53, 0.55), (-1.5, 0.7), (-1.46, 0.55), (-1.42, 0.2), (-1.38, 0.0),
           (-1.35, 0.35), (-1.31, 0.45), (-1.28, 0.15), (-1.24, 0.3), (-1.2, 0.42), (-1.1, 0.38),
           (-1.0, 0.32), (-0.8, 0.22), (-0.6, 0.12), (-0.45, 0.0), (-0.3, -0.15), (-0.2, -0.35),
           (-0.12, -0.6), (-0.06, -1.0), (-0.02, -1.6), (0.0, -4.2), (0.015, -2.2), (0.04, -0.8),
           (0.07, -0.7), (0.11, -0.6), (0.15, -0.4), (0.2, -0.6), (0.25, -0.3), (0.3, 0.3), (0.34, 0.5),
           (0.4, 0.25), (0.5, 0.15), (0.6, 0.1), (0.7, 0.15), (0.76, 0.25), (0.8, 1.15), (0.83, 0.9),
           (0.86, 1.0), (0.9, 0.85), (0.93, 1.0), (0.97, 0.9), (1.0, 1.0), (1.04, 0.85), (1.08, 1.05),
           (1.12, 0.95), (1.124, -8), (1.128, -8), (1.13, 0.9), (1.18, 1.1), (1.21, 0.95), (1.25, 0.85),
           (1.28, 1.05), (1.31, 0.9), (1.35, 1.1), (1.38, 0.95), (1.41, 0.9), (1.414, -8), (1.418, -8),
           (1.42, 0.95), (1.46, 1.1), (1.5, 1.25), (1.55, 1.6), (1.58, 1.1), (1.62, 1.0), (1.67, 0.95),
           (1.72, 0.9), (1.78, 1.0), (1.82, 0.85), (1.87, 0.95), (1.92, 0.85), (1.97, 1.0), (2.02, 1.15),
           (2.05, 0.95), (2.1, 1.0), (2.15, 0.9), (2.2, 0.95), (2.25, 0.85), (2.3, 0.95), (2.34, 1.35),
           (2.37, 0.9), (2.45, 0.85), (2.55, 0.8), (2.6, 1.3), (2.63, 0.85), (2.7, 0.8), (2.8, 0.75),
           (2.88, 1.05), (2.9, 0.8), (3.0, 0.75), (3.08, 0.8), (3.12, 1.3), (3.15, 0.85), (3.25, 0.8),
           (3.35, 0.85), (3.42, 1.15), (3.45, 0.85), (3.55, 0.8), (3.65, 0.85), (3.72, 1.3), (3.75, 0.85),
           (3.85, 0.8), (3.93, 1.05), (3.96, 0.8), (4.0, 0.95)]

gr_f = [(-4.0, 0.8), (-3.95, 0.9), (-3.9, 0.75), (-3.85, 0.85), (-3.8, 0.75), (-3.75, 0.9), (-3.7, 0.75),
        (-3.65, 0.8), (-3.6, 0.75), (-3.55, 0.85), (-3.5, 0.75), (-3.45, 0.9), (-3.4, 0.8), (-3.35, 1.0),
        (-3.3, 0.8), (-3.25, 0.9), (-3.2, 0.8), (-3.15, 0.9), (-3.1, 1.0), (-3.05, 0.85), (-3.0, 0.9),
        (-2.95, 0.8), (-2.9, 0.9), (-2.85, 0.95), (-2.8, 0.8), (-2.75, 0.7), (-2.7, 0.75), (-2.65, 0.7),
        (-2.6, 0.45), (-2.55, 0.7), (-2.5, 0.8), (-2.46, 1.1), (-2.43, 0.75), (-2.4, 0.7), (-2.35, 0.8),
        (-2.3, 0.8), (-2.27, 0.65), (-2.2, 0.58), (-2.1, 0.55), (-2.0, 0.52), (-1.9, 0.48), (-1.8, 0.45),
        (-1.7, 0.42), (-1.6, 0.38), (-1.53, 0.35), (-1.5, 0.45), (-1.46, 0.3), (-1.42, -0.1), (-1.38, -0.45),
        (-1.35, 0.0), (-1.31, 0.15), (-1.28, -0.2), (-1.24, 0.0), (-1.2, 0.12), (-1.1, 0.1), (-1.0, 0.05),
        (-0.8, -0.05), (-0.6, -0.12), (-0.45, -0.22), (-0.3, -0.38), (-0.2, -0.58), (-0.12, -0.85),
        (-0.06, -1.3), (-0.02, -2.2), (0.0, -4.2), (0.015, -3.0), (0.04, -1.8), (0.07, -1.5), (0.11, -1.3),
        (0.15, -1.15), (0.2, -1.05), (0.25, -0.9), (0.3, -0.7), (0.35, -0.5), (0.4, -0.35), (0.5, -0.2),
        (0.6, -0.1), (0.7, -0.05), (0.8, 0.2), (0.85, 0.35), (0.9, 0.4), (1.0, 0.45), (1.08, 0.5),
        (1.12, 0.5), (1.124, -8), (1.128, -8), (1.13, 0.5), (1.2, 0.55), (1.3, 0.5), (1.38, 0.55),
        (1.41, 0.5), (1.414, -8), (1.418, -8), (1.42, 0.55), (1.5, 0.7), (1.58, 0.65), (1.65, 0.75),
        (1.7, 0.6), (1.75, 0.7), (1.8, 0.55), (1.85, 0.7), (1.9, 0.6), (1.95, 0.7), (2.0, 0.65),
        (2.05, 0.55), (2.1, 0.6), (2.2, 0.55), (2.3, 0.55), (2.4, 0.5), (2.5, 0.45), (2.6, 0.5),
        (2.7, 0.45), (2.8, 0.4), (2.9, 0.45), (3.0, 0.4), (3.1, 0.45), (3.2, 0.4), (3.3, 0.45),
        (3.4, 0.45), (3.5, 0.4), (3.6, 0.45), (3.7, 0.5), (3.8, 0.45), (3.9, 0.5), (4.0, 0.5)]

tio2_f = [(-4.0, 0.6), (-3.95, 0.75), (-3.9, 0.55), (-3.85, 0.7), (-3.8, 0.6), (-3.75, 0.8), (-3.7, 0.6),
          (-3.65, 0.7), (-3.6, 0.65), (-3.55, 0.75), (-3.5, 0.7), (-3.45, 0.8), (-3.4, 0.75), (-3.36, 1.2),
          (-3.32, 0.75), (-3.25, 0.85), (-3.2, 0.75), (-3.15, 0.85), (-3.11, 1.3), (-3.07, 0.8), (-3.0, 0.85),
          (-2.95, 0.75), (-2.9, 0.85), (-2.87, 1.1), (-2.83, 0.8), (-2.78, 0.7), (-2.74, 0.6), (-2.7, 0.65),
          (-2.65, 0.5), (-2.61, 0.3), (-2.56, 0.55), (-2.5, 0.75), (-2.46, 1.6), (-2.43, 0.6), (-2.4, 0.3),
          (-2.36, 0.6), (-2.32, 0.75), (-2.28, 0.7), (-2.24, 0.5), (-2.2, 0.3), (-2.16, 0.1), (-2.12, -0.1),
          (-2.05, -0.25), (-1.98, -0.4), (-1.9, -0.55), (-1.8, -0.7), (-1.73, -0.8), (-1.65, -0.95),
          (-1.58, -1.1), (-1.54, -1.25), (-1.5, -1.05), (-1.46, -1.15), (-1.43, -1.3), (-1.4, -1.6),
          (-1.37, -2.4), (-1.35, -1.6), (-1.33, -1.05), (-1.31, -1.5), (-1.29, -1.95), (-1.26, -1.6),
          (-1.22, -1.65), (-1.15, -1.75), (-1.0, -1.85), (-0.76, -2.0), (-0.52, -2.05), (-0.28, -2.1),
          (-0.18, -2.3), (-0.13, -2.45), (-0.08, -2.8), (-0.04, -3.3), (0.0, -4.2), (0.005, -3.2),
          (0.02, -1.5), (0.04, -0.8), (0.06, -1.0), (0.08, -0.75), (0.11, -1.8), (0.13, -0.9), (0.17, -0.95),
          (0.22, -0.85), (0.27, -0.4), (0.31, 0.2), (0.34, 0.45), (0.38, 0.1), (0.43, -0.05), (0.48, -0.25),
          (0.55, -0.4), (0.61, -0.55), (0.67, -0.45), (0.72, -0.2), (0.76, 0.0), (0.8, 1.1), (0.83, 0.3),
          (0.86, 0.9), (0.9, 0.4), (0.93, 0.85), (0.97, 0.45), (1.0, 0.65), (1.04, 0.2), (1.08, 0.95),
          (1.12, 0.5), (1.124, -8), (1.128, -8), (1.13, 0.6), (1.18, 1.0), (1.21, 0.6), (1.25, 0.3),
          (1.28, 0.9), (1.31, 0.45), (1.35, 1.0), (1.38, 0.5), (1.41, 0.45), (1.414, -8), (1.418, -8),
          (1.42, 0.6), (1.48, 0.8), (1.52, 1.3), (1.55, 1.55), (1.58, 0.9), (1.62, 0.6), (1.67, 0.35),
          (1.72, 0.3), (1.78, 0.45), (1.82, 0.2), (1.87, 0.3), (1.92, 0.2), (1.97, 0.35), (2.02, 0.9),
          (2.05, 0.4), (2.1, 0.5), (2.15, 0.45), (2.2, 0.55), (2.25, 0.45), (2.3, 0.6), (2.34, 1.3),
          (2.37, 0.5), (2.45, 0.45), (2.55, 0.5), (2.6, 1.25), (2.63, 0.5), (2.7, 0.4), (2.8, 0.45),
          (2.88, 1.0), (2.9, 0.5), (3.0, 0.5), (3.08, 0.55), (3.12, 1.25), (3.15, 0.55), (3.25, 0.5),
          (3.35, 0.55), (3.42, 1.1), (3.45, 0.55), (3.55, 0.5), (3.65, 0.55), (3.72, 1.25), (3.75, 0.6),
          (3.85, 0.5), (3.93, 1.0), (3.96, 0.5), (4.0, 0.7)]

panel_labels = ["(a)", "(b)", "(c)", "(d)", "(e)", "(f)"]
legend_names = ["Total", "GR", "(TiO<sub>2</sub>)<sub>{}</sub>"]
x_ticks = [-4, -3.5, -3, -2.5, -2, -1.5, -1, -0.5, 0, 0.5, 1, 1.5, 2, 2.5, 3, 3.5, 4]
y_ticks = [1e-4, 1e-3, 1e-2, 1e-1, 1e0, 1e1, 1e2]
y_tick_text = ["10<sup>-4</sup>", "10<sup>-3</sup>", "10<sup>-2</sup>", "10<sup>-1</sup>",
               "10<sup>0</sup>", "10<sup>1</sup>", "10<sup>2</sup>"]

CYAN = "#2efdec"
ORANGE = "#e35205"
BLUE = "#0000f2"
SERIF = "'Liberation Serif', 'Times New Roman', Times, serif"
FLOOR = 1e-9

panels = [
    [(total_a, CYAN)],
    [(total_b, CYAN), (gr_b, ORANGE), (tio2_b, BLUE)],
    [(total_c, CYAN), (gr_c, ORANGE), (tio2_c, BLUE)],
    [(total_d, CYAN), (gr_d, ORANGE), (tio2_d, BLUE)],
    [(total_e, CYAN), (gr_e, ORANGE), (tio2_e, BLUE)],
    [(total_f, CYAN), (gr_f, ORANGE), (tio2_f, BLUE)],
]

# geometry (pixels): 632 x 832 canvas, 6 stacked panels of 115 px with 15 px gaps
W, H = 632, 832
ML, MR, MT, MB = 71, 13, 13, 54
PW, PH = W - ML - MR, H - MT - MB
PANEL_H = 115

fig = make_subplots(rows=6, cols=1, shared_xaxes=True, vertical_spacing=15 / PH)


def dx(px):
    return (px - ML) / PW


def dy(off):
    return 1 - off / PANEL_H


minor_vals = [m * 10.0 ** d for d in range(-4, 2) for m in range(2, 10)]

for i, series in enumerate(panels):
    row = i + 1
    sfx = "" if row == 1 else str(row)
    for data, color in series:
        xs = [e for e, v in data]
        ys = [10.0 ** v for e, v in data]
        fig.add_trace(go.Scatter(
            x=xs + [xs[-1], xs[0]], y=ys + [FLOOR, FLOOR],
            mode="lines", fill="toself", fillcolor=color,
            line=dict(color=color, width=0.5),
            hoverinfo="skip", showlegend=False), row=row, col=1)

    fig.update_yaxes(type="log", range=[-4, 2], tickmode="array", tickvals=y_ticks, ticktext=y_tick_text,
                     ticks="inside", ticklen=6, tickcolor="black",
                     minor=dict(tickmode="array", tickvals=minor_vals, ticks="inside", ticklen=3,
                                tickcolor="black", showgrid=False),
                     showline=True, linecolor="black", linewidth=1, mirror="allticks",
                     showgrid=False, zeroline=False,
                     tickfont=dict(family=SERIF, size=17, color="black"), row=row, col=1)
    fig.update_xaxes(range=[-4, 4], tickmode="array", tickvals=x_ticks,
                     ticktext=[str(int(t)) if t == int(t) else "" for t in x_ticks],
                     ticks="inside", ticklen=7, tickcolor="black",
                     showline=True, linecolor="black", linewidth=1, mirror="allticks",
                     showgrid=False, zeroline=False, showticklabels=(row == 6),
                     tickfont=dict(family=SERIF, size=17, color="black"), row=row, col=1)

    xd, yd = f"x{sfx} domain", f"y{sfx} domain"

    # Fermi level
    fig.add_shape(type="line", xref=f"x{sfx}", yref=yd, x0=0, x1=0, y0=0, y1=1,
                  line=dict(color="#444444", width=1, dash="dot"), layer="below")

    # panel tag
    fig.add_annotation(xref=xd, yref=yd, x=0, y=1, xanchor="left", yanchor="top",
                       text=panel_labels[i], showarrow=False, width=31, height=32,
                       font=dict(family=SERIF, size=26, color="black"),
                       bgcolor="rgba(255,255,255,0.72)", bordercolor="#9a9a9a", borderwidth=1, borderpad=0)

    # legend box
    fig.add_shape(type="rect", xref=xd, yref=yd, x0=dx(490), x1=dx(603), y0=dy(111), y1=dy(40),
                  fillcolor="rgba(255,255,255,0.66)", line=dict(color="rgba(70,70,110,0.8)", width=1),
                  layer="above")
    if row == 1:
        entries = [("Total", CYAN, 74)]
    else:
        entries = [("Total", CYAN, 53), ("GR", ORANGE, 74.5),
                   (legend_names[2].format(row - 1), BLUE, 95.5)]
    for text, color, off in entries:
        fig.add_shape(type="rect", xref=xd, yref=yd, x0=dx(497), x1=dx(504.5),
                      y0=dy(off + 3.5), y1=dy(off - 4), fillcolor=color, line=dict(width=0),
                      layer="above")
        fig.add_annotation(xref=xd, yref=yd, x=dx(507), y=dy(off), xanchor="left", yanchor="middle",
                           text=text, showarrow=False,
                           font=dict(family=SERIF, size=21, color="black"))

# axis titles
fig.add_annotation(xref="paper", yref="paper", x=(22 - ML) / PW, y=1 - (400 - MT) / PH,
                   text="PDOS [eV<sup>-1</sup>]", textangle=-90, showarrow=False,
                   xanchor="center", yanchor="middle",
                   font=dict(family=SERIF, size=24, color="black"))
fig.add_annotation(xref="paper", yref="paper", x=(345 - ML) / PW, y=-(813 - (H - MB)) / PH,
                   text="Energy (E-E<sub>F</sub>) [eV]", showarrow=False,
                   xanchor="center", yanchor="middle",
                   font=dict(family=SERIF, size=24, color="black"))

fig.update_layout(width=W, height=H, margin=dict(l=ML, r=MR, t=MT, b=MB),
                  paper_bgcolor="white", plot_bgcolor="white", showlegend=False)

fig.write_html("out.html")
